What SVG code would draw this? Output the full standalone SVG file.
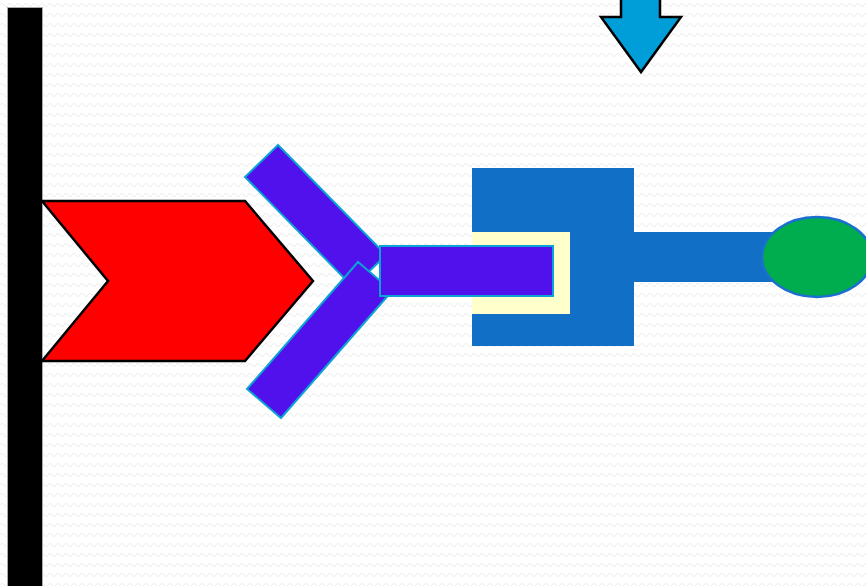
<svg xmlns="http://www.w3.org/2000/svg" width="866" height="586" viewBox="0 0 866 586">
<style>
.bar{fill:#5011ec;stroke:#0ba3d6;stroke-width:2}
.outk{stroke:#000;stroke-width:2.5;stroke-linejoin:miter}
</style>
<defs>
<pattern id="bg" width="8" height="10" patternUnits="userSpaceOnUse">
<path d="M0 5 Q2 2 4 5 T8 5" fill="none" stroke="#eeeeee" stroke-width="1.2"/>
</pattern>
</defs>
<rect width="866" height="586" fill="#ffffff"/>
<rect width="866" height="586" fill="url(#bg)"/>
<g id="wall"><rect x="7.5" y="7.5" width="35" height="590" fill="#000" stroke="#aaaaaa" stroke-width="1"/></g>
<g id="chevron"><polygon class="outk" points="42,201 245,201 313,281 245,361 42,361 108,281" fill="#ff0000"/></g>
<g id="arm-upper"><polygon class="bar" points="278,145 245,177 353,287 386,255"/></g>
<g id="arm-lower"><polygon class="bar" points="358,262 247,389 281,418 392,291"/></g>
<g id="receptor">
<rect x="472" y="168" width="162" height="178" fill="#116fc6"/>
<rect x="634" y="232" width="160" height="50" fill="#116fc6"/>
<rect x="472" y="232" width="98" height="82" fill="#ffffcc"/>
</g>
<g id="stem"><rect class="bar" x="380" y="246" width="173" height="50"/></g>
<g id="ball"><ellipse cx="817" cy="257" rx="55" ry="40" fill="#00ad4e" stroke="#1a6fd0" stroke-width="2.5"/></g>
<g id="arrow"><polygon class="outk" points="621,-5 660,-5 660,17 681,17 641,72 601,17 621,17" fill="#009ed9"/></g>
<g id="connectors"></g>
</svg>
